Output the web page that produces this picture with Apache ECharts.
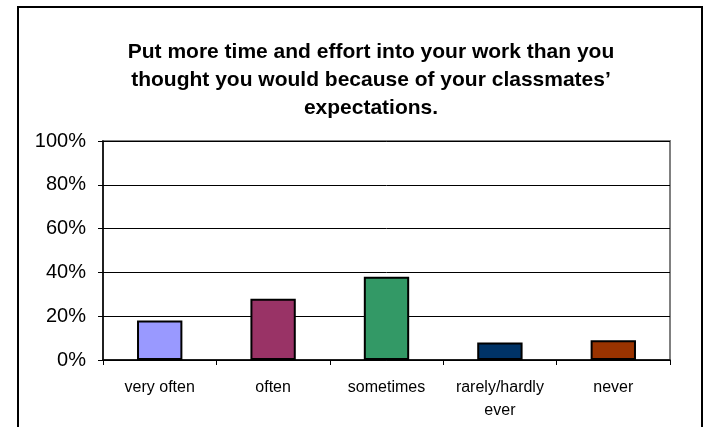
<!DOCTYPE html>
<html><head><meta charset="utf-8">
<script src="https://cdn.jsdelivr.net/npm/echarts@6/dist/echarts.min.js"></script>
<style>html,body{margin:0;padding:0;background:#fff}#c{width:705px;height:427px}</style>
</head><body><div id="c"></div>
<script>
var categories = ['very often', 'often', 'sometimes', 'rarely/hardly\never', 'never'];
var values = [18, 28, 38, 8, 9];
var barColors = ['#9999FF', '#993366', '#339966', '#003366', '#993300'];
var titleText = 'Put more time and effort into your work than you\nthought you would because of your classmates\u2019\nexpectations.';

var chart = echarts.init(document.getElementById('c'), null, {renderer: 'canvas'});
var font = '"Liberation Sans", Arial, sans-serif';
chart.setOption({
  animation: false,
  backgroundColor: '#fff',
  title: {
    text: titleText,
    left: 366, top: 33, textAlign: 'center',
    textStyle: {fontFamily: font, fontSize: 21, fontWeight: 'bold', color: '#000', lineHeight: 28}
  },
  graphic: [{
    type: 'rect', shape: {x: 18, y: 7, width: 684, height: 440},
    style: {fill: 'none', stroke: '#000', lineWidth: 2}, silent: true
  }],
  grid: {left: 103, right: 35, top: 141, bottom: 67, show: true, borderColor: '#808080', borderWidth: 2, backgroundColor: '#fff'},
  xAxis: {
    type: 'category', data: categories,
    axisLine: {lineStyle: {color: '#000', width: 1.5}},
    axisTick: {show: true, length: 5, lineStyle: {color: '#000'}},
    axisLabel: {fontFamily: font, fontSize: 16, color: '#000', margin: 16, lineHeight: 23, interval: 0, hideOverlap: false}
  },
  yAxis: {
    type: 'value', min: 0, max: 100, interval: 20,
    axisLine: {show: true, lineStyle: {color: '#000', width: 1.5}},
    axisTick: {show: true, length: 5, lineStyle: {color: '#000'}},
    axisLabel: {fontFamily: font, fontSize: 20, color: '#000', margin: 17, formatter: '{value}%'},
    splitLine: {lineStyle: {color: '#000', width: 1}}
  },
  series: [{
    type: 'bar', barWidth: '40%',
    data: values.map(function (v, i) {
      return {value: v, itemStyle: {color: barColors[i], borderColor: '#000', borderWidth: 2}};
    })
  }]
});
</script></body></html>
